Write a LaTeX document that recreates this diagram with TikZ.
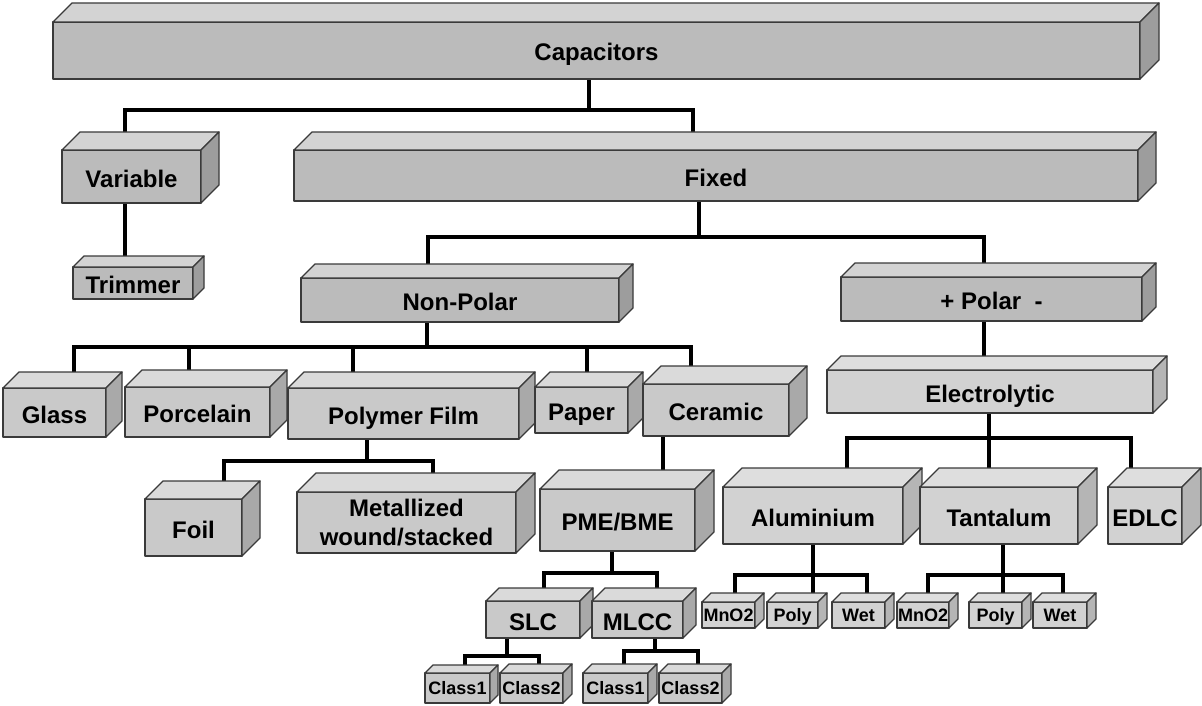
\documentclass[tikz,border=0pt]{standalone}
\usepackage{fontspec}
\setmainfont{Liberation Sans}
\usetikzlibrary{backgrounds}
\definecolor{frontA}{HTML}{BBBBBB}
\definecolor{topA}{HTML}{D3D3D3}
\definecolor{sideA}{HTML}{9D9D9D}
\definecolor{frontB}{HTML}{C9C9C9}
\definecolor{topB}{HTML}{DADADA}
\definecolor{sideB}{HTML}{A9A9A9}
\definecolor{frontC}{HTML}{D2D2D2}
\definecolor{topC}{HTML}{DEDEDE}
\definecolor{sideC}{HTML}{B5B5B5}
\definecolor{edge}{HTML}{3A3A3A}
\tikzset{
  boxline/.style={draw=edge, line width=1.3pt, line join=round},
  cube/.style={boxline, inner sep=0pt, outer sep=0pt, align=center, text=black},
  bigtxt/.style={font=\bfseries\fontsize{24}{29}\selectfont, text height=22pt, text depth=1pt},
  bigml/.style={font=\bfseries\fontsize{24}{29}\selectfont},
  smalltxt/.style={font=\bfseries\fontsize{18}{21}\selectfont, text height=13pt, text depth=0pt},
  conn/.style={draw=black, line width=4.5pt, line join=miter},
}
% name, x1, y1, x2, y2, depth, shade, font style, text
\newcommand\cbox[9]{%
  \pgfmathsetmacro\cbw{#4-#2}%
  \pgfmathsetmacro\cbh{#5-#3}%
  \node[cube, #8, fill=front#7, minimum width=\cbw pt, minimum height=\cbh pt]
    (#1) at ({(#2+#4)/2},{(#3+#5)/2}) {#9};
  \filldraw[boxline, fill=top#7] (#1.north west) -- ([xshift=#6pt,yshift=#6pt]#1.north west)
    -- ([xshift=#6pt,yshift=#6pt]#1.north east) -- (#1.north east) -- cycle;
  \filldraw[boxline, fill=side#7] (#1.north east) -- ([xshift=#6pt,yshift=#6pt]#1.north east)
    -- ([xshift=#6pt,yshift=#6pt]#1.south east) -- (#1.south east) -- cycle;
}
\begin{document}
\begin{tikzpicture}[x=1pt,y=-1pt]
\useasboundingbox (0,0) rectangle (1202,706);
% level 0-2
\cbox{cap}{53}{22}{1140}{79}{19}{A}{bigtxt}{Capacitors}
\cbox{var}{62}{150}{201}{203}{18}{A}{bigtxt}{Variable}
\cbox{fixed}{294}{150}{1138}{201}{18}{A}{bigtxt}{Fixed}
\cbox{trim}{73}{267}{193}{299}{11}{A}{bigtxt}{Trimmer}
\cbox{np}{301}{278}{619}{322}{14}{A}{bigtxt}{Non-Polar}
\cbox{pol}{841}{277}{1142}{321}{14}{A}{bigtxt}{+ Polar~~-}
% non-polar children
\cbox{glass}{3}{388}{106}{437}{16}{B}{bigtxt}{Glass}
\cbox{porc}{125}{387}{270}{437}{17}{B}{bigtxt}{Porcelain}
\cbox{poly}{288}{388}{519}{439}{16}{B}{bigtxt}{Polymer Film}
\cbox{paper}{535}{387}{628}{433}{15}{B}{bigtxt}{Paper}
\cbox{ceram}{643}{384}{789}{436}{18}{B}{bigtxt}{Ceramic}
\cbox{elec}{827}{370}{1153}{413}{14}{C}{bigtxt}{Electrolytic}
% next row
\cbox{foil}{145}{499}{242}{556}{18}{B}{bigtxt}{Foil}
\cbox{metal}{297}{492}{516}{553}{19}{B}{bigml}{Metallized\\wound/stacked}
\cbox{pme}{540}{489}{695}{551}{19}{B}{bigtxt}{PME/BME}
\cbox{alu}{723}{487}{903}{544}{19}{C}{bigtxt}{Aluminium}
\cbox{tan}{920}{487}{1078}{544}{19}{C}{bigtxt}{Tantalum}
\cbox{edlc}{1108}{487}{1182}{544}{19}{C}{bigtxt}{EDLC}
% SLC / MLCC
\cbox{slc}{486}{601}{580}{638}{13}{B}{bigtxt}{SLC}
\cbox{mlcc}{592}{601}{683}{638}{13}{B}{bigtxt}{MLCC}
\cbox{mna}{702}{602}{755}{628}{9}{C}{smalltxt}{MnO2}
\cbox{pya}{767}{602}{818}{628}{9}{C}{smalltxt}{Poly}
\cbox{wta}{832}{602}{885}{628}{9}{C}{smalltxt}{Wet}
\cbox{mnb}{897}{602}{949}{628}{9}{C}{smalltxt}{MnO2}
\cbox{pyb}{969}{602}{1022}{628}{9}{C}{smalltxt}{Poly}
\cbox{wtb}{1033}{602}{1087}{628}{9}{C}{smalltxt}{Wet}
% classes
\cbox{cla}{425}{673}{490}{703}{8}{B}{smalltxt}{Class1}
\cbox{cxa}{500}{673}{563}{703}{9}{B}{smalltxt}{Class2}
\cbox{clb}{583}{673}{648}{703}{9}{B}{smalltxt}{Class1}
\cbox{cxb}{659}{673}{722}{703}{9}{B}{smalltxt}{Class2}
% connectors
\begin{scope}[on background layer]
\draw[conn] (cap.south -| 589,0) -- ++(0,31) -| (var.north -| 125,0);
\draw[conn] (cap.south -| 589,0) -- ++(0,31) -| (fixed.north -| 693,0);
\draw[conn] (var.south -| 125,0) -- (trim.north -| 125,0);
\draw[conn] (fixed.south -| 699,0) -- ++(0,36) -| (np.north -| 428,0);
\draw[conn] (fixed.south -| 699,0) -- ++(0,36) -| (pol.north -| 984,0);
\draw[conn] (pol.south -| 984,0) -- (elec.north -| 984,0);
\draw[conn] (np.south -| 427,0) -- ++(0,25) -| (glass.north -| 74,0);
\draw[conn] (np.south -| 427,0) -- ++(0,25) -| (porc.north -| 189,0);
\draw[conn] (np.south -| 427,0) -- ++(0,25) -| (poly.north -| 353,0);
\draw[conn] (np.south -| 427,0) -- ++(0,25) -| (paper.north -| 587,0);
\draw[conn] (np.south -| 427,0) -- ++(0,25) -| (ceram.north -| 691,0);
\draw[conn] (poly.south -| 367,0) -- ++(0,22) -| (foil.north -| 224,0);
\draw[conn] (poly.south -| 367,0) -- ++(0,22) -| (metal.north -| 433,0);
\draw[conn] (ceram.south -| 663,0) -- (pme.north -| 663,0);
\draw[conn] (pme.south -| 612,0) -- ++(0,22) -| (slc.north -| 544,0);
\draw[conn] (pme.south -| 612,0) -- ++(0,22) -| (mlcc.north -| 657,0);
\draw[conn] (slc.south -| 507,0) -- ++(0,18) -| (cla.north -| 465,0);
\draw[conn] (slc.south -| 507,0) -- ++(0,18) -| (cxa.north -| 539,0);
\draw[conn] (mlcc.south -| 655,0) -- ++(0,13) -| (clb.north -| 624,0);
\draw[conn] (mlcc.south -| 655,0) -- ++(0,13) -| (cxb.north -| 698,0);
\draw[conn] (elec.south -| 989,0) -- ++(0,25) -| (alu.north -| 847,0);
\draw[conn] (elec.south -| 989,0) -- (tan.north -| 989,0);
\draw[conn] (elec.south -| 989,0) -- ++(0,25) -| (edlc.north -| 1131,0);
\draw[conn] (alu.south -| 813,0) -- ++(0,31) -| (mna.north -| 735,0);
\draw[conn] (alu.south -| 813,0) -- (pya.north -| 813,0);
\draw[conn] (alu.south -| 813,0) -- ++(0,31) -| (wta.north -| 867,0);
\draw[conn] (tan.south -| 1003,0) -- ++(0,31) -| (mnb.north -| 928,0);
\draw[conn] (tan.south -| 1003,0) -- (pyb.north -| 1003,0);
\draw[conn] (tan.south -| 1003,0) -- ++(0,31) -| (wtb.north -| 1063,0);
\end{scope}
\end{tikzpicture}
\end{document}
